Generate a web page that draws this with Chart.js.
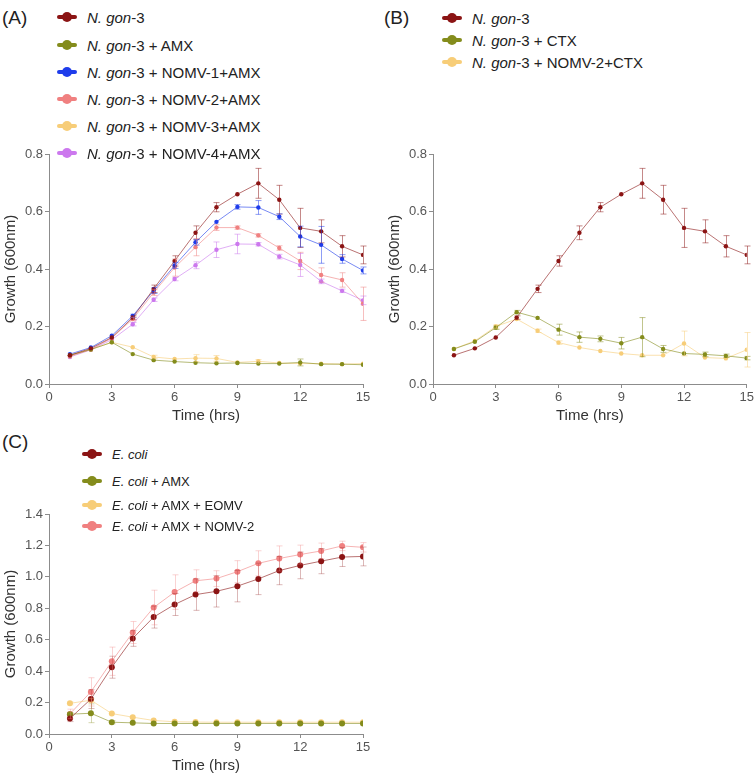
<!DOCTYPE html>
<html>
<head>
<meta charset="utf-8">
<script src="https://cdn.jsdelivr.net/npm/chart.js@4.4.0/dist/chart.umd.min.js"></script>
<style>
  body { margin: 0; background: #fff; font-family: "Liberation Sans", Arial, sans-serif; }
  #wrap { position: relative; width: 756px; height: 775px; overflow: hidden; }
  .panel-label { position: absolute; font-size: 19px; color: #222; line-height: 1; }
  .cv { position: absolute; }
  .leg { position: absolute; display: flex; align-items: center; color: #222; white-space: nowrap; line-height: 1; }
  .leg .mk { position: relative; width: 20px; height: 10px; margin-right: 10px; flex: none; }
  .leg .mk .bar { position: absolute; left: 0; top: 3px; width: 20px; height: 4px; border-radius: 2px; }
  .leg .mk .dot { position: absolute; left: 5px; top: 0; width: 10px; height: 10px; border-radius: 50%; }
</style>
</head>
<body>
<div id="wrap">
  <div class="panel-label" style="left:2px; top:8px;">(A)</div>
  <div class="panel-label" style="left:384px; top:8px;">(B)</div>
  <div class="panel-label" style="left:2px; top:432px;">(C)</div>
  <canvas id="chartA" class="cv" style="left:0; top:140px;" width="380" height="285"></canvas>
  <canvas id="chartB" class="cv" style="left:384px; top:140px;" width="372" height="285"></canvas>
  <canvas id="chartC" class="cv" style="left:0; top:500px;" width="380" height="275"></canvas>
</div>
<script>
// time points (hrs)
const hours = [1, 2, 3, 4, 5, 6, 7, 8, 9, 10, 11, 12, 13, 14, 15];
const xTicksMax = 15;

// Panel A - N. gonorrhoeae with AMX
const ngon3 = [0.100, 0.124, 0.162, 0.231, 0.331, 0.428, 0.526, 0.615, 0.660, 0.698, 0.641, 0.543, 0.531, 0.479, 0.449];
const ngon3Err = [0.004, 0.004, 0.005, 0.006, 0.013, 0.018, 0.024, 0.016, 0.005, 0.052, 0.050, 0.068, 0.040, 0.037, 0.031];
const ngonAmx = [0.100, 0.120, 0.145, 0.104, 0.083, 0.078, 0.074, 0.072, 0.073, 0.071, 0.071, 0.075, 0.069, 0.069, 0.067];
const ngonAmxErr = [0.003, 0.003, 0.005, 0.004, 0.004, 0.004, 0.003, 0.003, 0.003, 0.003, 0.003, 0.012, 0.003, 0.003, 0.005];
const nomv1Amx = [0.104, 0.127, 0.168, 0.237, 0.325, 0.412, 0.493, 0.564, 0.616, 0.614, 0.582, 0.513, 0.484, 0.435, 0.395];
const nomv1AmxErr = [0.003, 0.003, 0.005, 0.006, 0.010, 0.010, 0.010, 0.005, 0.008, 0.024, 0.010, 0.036, 0.064, 0.015, 0.012];
const nomv2Amx = [0.096, 0.120, 0.160, 0.226, 0.318, 0.405, 0.476, 0.544, 0.544, 0.517, 0.473, 0.428, 0.379, 0.362, 0.279];
const nomv2AmxErr = [0.004, 0.004, 0.005, 0.006, 0.010, 0.030, 0.030, 0.010, 0.006, 0.006, 0.008, 0.030, 0.025, 0.025, 0.058];
const nomv3Amx = [0.100, 0.120, 0.145, 0.128, 0.094, 0.087, 0.090, 0.089, 0.075, 0.079, 0.073, 0.071, 0.071, 0.069, 0.071];
const nomv3AmxErr = [0.003, 0.003, 0.005, 0.004, 0.006, 0.005, 0.012, 0.010, 0.004, 0.006, 0.004, 0.004, 0.003, 0.003, 0.004];
const nomv4Amx = [0.094, 0.119, 0.154, 0.208, 0.293, 0.365, 0.413, 0.467, 0.487, 0.486, 0.443, 0.414, 0.357, 0.324, 0.291];
const nomv4AmxErr = [0.003, 0.003, 0.004, 0.006, 0.006, 0.006, 0.012, 0.027, 0.034, 0.006, 0.008, 0.040, 0.008, 0.006, 0.015];

// Panel B - N. gonorrhoeae with CTX
const ngonCtx = [0.122, 0.147, 0.196, 0.250, 0.230, 0.189, 0.163, 0.157, 0.142, 0.163, 0.122, 0.106, 0.103, 0.098, 0.090];
const ngonCtxErr = [0.004, 0.005, 0.006, 0.006, 0.005, 0.019, 0.018, 0.010, 0.020, 0.068, 0.012, 0.005, 0.008, 0.006, 0.006];
const nomv2Ctx = [0.122, 0.150, 0.200, 0.226, 0.185, 0.144, 0.127, 0.115, 0.106, 0.100, 0.100, 0.141, 0.092, 0.089, 0.119];
const nomv2CtxErr = [0.004, 0.004, 0.006, 0.005, 0.006, 0.006, 0.005, 0.005, 0.005, 0.004, 0.005, 0.043, 0.005, 0.005, 0.060];

// Panel C - E. coli
const ecoli = [0.099, 0.222, 0.425, 0.608, 0.744, 0.824, 0.887, 0.908, 0.941, 0.987, 1.040, 1.073, 1.100, 1.126, 1.130];
const ecoliErr = [0.020, 0.060, 0.070, 0.050, 0.070, 0.070, 0.100, 0.100, 0.100, 0.100, 0.090, 0.085, 0.080, 0.060, 0.060];
const ecoliAmx = [0.126, 0.132, 0.075, 0.071, 0.067, 0.067, 0.067, 0.067, 0.067, 0.067, 0.067, 0.067, 0.067, 0.067, 0.067];
const ecoliAmxErr = [0.010, 0.060, 0.010, 0.006, 0.005, 0.005, 0.005, 0.005, 0.005, 0.005, 0.005, 0.005, 0.005, 0.005, 0.005];
const ecoliEomv = [0.195, 0.215, 0.130, 0.107, 0.086, 0.078, 0.076, 0.075, 0.075, 0.075, 0.075, 0.075, 0.075, 0.075, 0.075];
const ecoliEomvErr = [0.010, 0.010, 0.008, 0.006, 0.005, 0.005, 0.005, 0.005, 0.005, 0.005, 0.005, 0.005, 0.005, 0.005, 0.005];
const ecoliNomv2 = [0.128, 0.268, 0.463, 0.646, 0.805, 0.903, 0.975, 0.989, 1.033, 1.086, 1.117, 1.142, 1.165, 1.197, 1.188];
const ecoliNomv2Err = [0.030, 0.090, 0.090, 0.070, 0.110, 0.110, 0.070, 0.050, 0.070, 0.080, 0.080, 0.060, 0.050, 0.030, 0.030];

const COL = {
    red: [139, 20, 20],
    olive: [132, 140, 28],
    blue: [30, 60, 235],
    salmon: [240, 128, 128],
    yellow: [247, 205, 120],
    violet: [204, 120, 238]
};
const rgb = (c, a) => a === undefined ? `rgb(${c.join(',')})` : `rgba(${c.join(',')},${a})`;

// error bars drawn with the chart's own scales
const errorBarPlugin = {
    id: 'errorBars',
    afterDatasetsDraw(chart) {
        const { ctx, scales } = chart;
        const xs = scales.x, ys = scales.y;
        chart.data.datasets.forEach(ds => {
            if (!ds.errors) return;
            ctx.save();
            ctx.strokeStyle = ds.errColor;
            ctx.lineWidth = 1;
            ds.data.forEach((pt, j) => {
                const e = ds.errors[j];
                const x = Math.round(xs.getPixelForValue(pt.x)) + 0.5;
                const yTop = ys.getPixelForValue(pt.y + e);
                const yBot = ys.getPixelForValue(pt.y - e);
                if (yBot - yTop < 3) return;
                ctx.beginPath();
                ctx.moveTo(x, yTop); ctx.lineTo(x, yBot);
                ctx.moveTo(x - 3, yTop); ctx.lineTo(x + 3, yTop);
                ctx.moveTo(x - 3, yBot); ctx.lineTo(x + 3, yBot);
                ctx.stroke();
            });
            ctx.restore();
        });
    }
};

function series(label, values, errs, col, radius, errAlpha) {
    return {
        label: label,
        data: values.map((v, i) => ({ x: hours[i], y: v })),
        errors: errs,
        errColor: rgb(col, errAlpha),
        borderColor: rgb(col, 0.6),
        backgroundColor: rgb(col),
        pointBackgroundColor: rgb(col),
        pointBorderColor: rgb(col),
        borderWidth: 1,
        pointRadius: radius,
        pointBorderWidth: 0,
        tension: 0
    };
}

function makeChart(id, datasets, yMax, padRight) {
    const axisColor = '#8c8c8c';
    const tickColor = '#555';
    new Chart(document.getElementById(id), {
        type: 'line',
        data: { datasets: datasets },
        plugins: [errorBarPlugin],
        options: {
            responsive: false,
            animation: false,
            layout: { padding: { top: 14, right: padRight, bottom: 0, left: 0 } },
            plugins: { legend: { display: false }, tooltip: { enabled: false } },
            scales: {
                x: {
                    type: 'linear',
                    min: 0,
                    max: xTicksMax,
                    afterFit: s => { s.height = 41; },
                    border: { color: axisColor },
                    grid: { drawOnChartArea: false, tickLength: 4, color: axisColor },
                    ticks: { stepSize: 3, color: tickColor, font: { size: 13, family: 'Liberation Sans' }, padding: 2 },
                    title: { display: true, text: 'Time (hrs)', color: '#333', font: { size: 15, family: 'Liberation Sans' }, padding: { top: 0, bottom: 0 } }
                },
                y: {
                    min: 0,
                    max: yMax,
                    afterFit: s => { s.width = 49; },
                    border: { color: axisColor },
                    grid: { drawOnChartArea: false, tickLength: 4, color: axisColor },
                    ticks: {
                        stepSize: 0.2,
                        color: tickColor,
                        font: { size: 13, family: 'Liberation Sans' },
                        padding: 2,
                        callback: v => v.toFixed(1)
                    },
                    title: { display: true, text: 'Growth (600nm)', color: '#333', font: { size: 15, family: 'Liberation Sans' }, padding: { top: 2, bottom: 0 } }
                }
            }
        }
    });
}

makeChart('chartA', [
    series('N. gon-3', ngon3, ngon3Err, COL.red, 2.2, 0.5),
    series('N. gon-3 + AMX', ngonAmx, ngonAmxErr, COL.olive, 2.2, 0.5),
    series('N. gon-3 + NOMV-1+AMX', nomv1Amx, nomv1AmxErr, COL.blue, 2.2, 0.5),
    series('N. gon-3 + NOMV-2+AMX', nomv2Amx, nomv2AmxErr, COL.salmon, 2.2, 0.5),
    series('N. gon-3 + NOMV-3+AMX', nomv3Amx, nomv3AmxErr, COL.yellow, 2.2, 0.5),
    series('N. gon-3 + NOMV-4+AMX', nomv4Amx, nomv4AmxErr, COL.violet, 2.2, 0.5)
], 0.8, 17);

makeChart('chartB', [
    series('N. gon-3', ngon3, ngon3Err, COL.red, 2.2, 0.5),
    series('N. gon-3 + CTX', ngonCtx, ngonCtxErr, COL.olive, 2.2, 0.5),
    series('N. gon-3 + NOMV-2+CTX', nomv2Ctx, nomv2CtxErr, COL.yellow, 2.2, 0.5)
], 0.8, 9);

makeChart('chartC', [
    series('E. coli', ecoli, ecoliErr, COL.red, 3, 0.3),
    series('E. coli + AMX', ecoliAmx, ecoliAmxErr, COL.olive, 3, 0.35),
    series('E. coli + AMX + EOMV', ecoliEomv, ecoliEomvErr, COL.yellow, 3, 0.35),
    series('E. coli + AMX + NOMV-2', ecoliNomv2, ecoliNomv2Err, COL.salmon, 3, 0.35)
], 1.4, 17);

// HTML legends
function legend(items, left, centers, size) {
    const wrap = document.getElementById('wrap');
    items.forEach((it, i) => {
        const d = document.createElement('div');
        d.className = 'leg';
        d.style.left = left + 'px';
        d.style.top = (centers[i] - 6) + 'px';
        d.style.height = '12px';
        d.style.fontSize = size + 'px';
        d.innerHTML = `<span class="mk"><span class="bar" style="background:${rgb(it.col)}"></span><span class="dot" style="background:${rgb(it.col)}"></span></span><span><i>${it.it}</i>${it.rest}</span>`;
        wrap.appendChild(d);
    });
}

legend([
    { col: COL.red, it: 'N. gon', rest: '-3' },
    { col: COL.olive, it: 'N. gon', rest: '-3 + AMX' },
    { col: COL.blue, it: 'N. gon', rest: '-3 + NOMV-1+AMX' },
    { col: COL.salmon, it: 'N. gon', rest: '-3 + NOMV-2+AMX' },
    { col: COL.yellow, it: 'N. gon', rest: '-3 + NOMV-3+AMX' },
    { col: COL.violet, it: 'N. gon', rest: '-3 + NOMV-4+AMX' }
], 57, [17, 45, 72, 99, 126, 153], 15);

legend([
    { col: COL.red, it: 'N. gon', rest: '-3' },
    { col: COL.olive, it: 'N. gon', rest: '-3 + CTX' },
    { col: COL.yellow, it: 'N. gon', rest: '-3 + NOMV-2+CTX' }
], 442, [18, 40, 62], 15);

legend([
    { col: COL.red, it: 'E. coli', rest: '' },
    { col: COL.olive, it: 'E. coli', rest: ' + AMX' },
    { col: COL.yellow, it: 'E. coli', rest: ' + AMX + EOMV' },
    { col: COL.salmon, it: 'E. coli', rest: ' + AMX + NOMV-2' }
], 82, [454, 481, 505, 526], 13);
</script>
</body>
</html>
